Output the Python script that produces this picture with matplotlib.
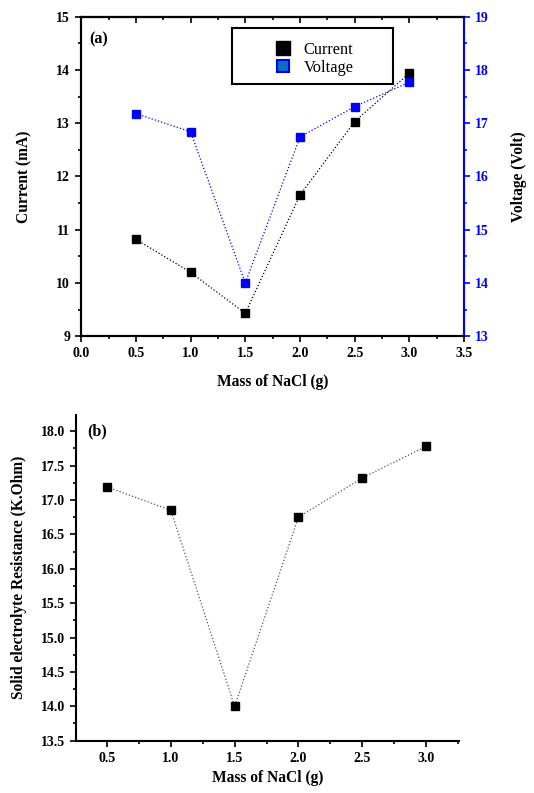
import matplotlib
matplotlib.use("Agg")
import matplotlib.pyplot as plt
from matplotlib.ticker import MultipleLocator
from matplotlib.patches import Rectangle
from matplotlib.lines import Line2D

plt.rcParams['font.family'] = ['Liberation Serif', 'DejaVu Serif']

# data
mass = [0.5, 1.0, 1.5, 2.0, 2.5, 3.0]
current = [10.82, 10.20, 9.43, 11.65, 13.03, 13.94]
voltage = [17.18, 16.84, 14.00, 16.74, 17.31, 17.77]
resistance = [17.19, 16.85, 14.00, 16.75, 17.32, 17.78]

TICK_FS = 10
LABEL_FS = 11.2

fig = plt.figure(figsize=(5.34, 7.93), dpi=100)

# ---- panel (a) ----
ax1 = fig.add_axes([0.152, 0.576, 0.717, 0.403])
ax1.plot(mass, current, ls=':', lw=0.9, color='black', marker='s',
         ms=5.5, mfc='black', mec='black')
ax1.set_xlim(0, 3.5)
ax1.set_ylim(9, 15)
ax1.xaxis.set_major_locator(MultipleLocator(0.5))
ax1.xaxis.set_minor_locator(MultipleLocator(0.25))
ax1.yaxis.set_major_locator(MultipleLocator(1))
ax1.yaxis.set_minor_locator(MultipleLocator(0.5))
ax1.tick_params(which='both', direction='out', labelsize=TICK_FS, width=1.2)
ax1.tick_params(which='major', length=4.5)
ax1.tick_params(which='minor', length=2.5)
for lab in ax1.get_xticklabels() + ax1.get_yticklabels():
    lab.set_fontweight('bold')
# inward ticks on the top edge
top = ax1.secondary_xaxis('top')
top.xaxis.set_major_locator(MultipleLocator(0.5))
top.xaxis.set_minor_locator(MultipleLocator(0.25))
top.tick_params(which='both', direction='in', labeltop=False, width=1.2)
top.tick_params(which='major', length=4.5)
top.tick_params(which='minor', length=2.5)
top.spines['top'].set_linewidth(1.5)

ax1.set_xlabel('Mass of NaCl (g)', fontsize=LABEL_FS, fontweight='bold', labelpad=10)
ax1.set_ylabel('Current (mA)', fontsize=LABEL_FS, fontweight='bold', labelpad=17)
ax1.text(0.02, 0.93, '(a)', transform=ax1.transAxes, fontsize=11.5,
         fontweight='bold', va='center')

ax2 = ax1.twinx()
ax2.plot(mass, voltage, ls=':', lw=0.9, color='blue', marker='s',
         ms=5.5, mfc='blue', mec='blue')
ax2.set_ylim(13, 19)
ax2.yaxis.set_major_locator(MultipleLocator(1))
ax2.yaxis.set_minor_locator(MultipleLocator(0.5))
ax2.tick_params(axis='y', which='both', direction='out', colors='blue',
                labelsize=TICK_FS, width=1.2)
ax2.tick_params(axis='y', which='major', length=4.5)
ax2.tick_params(axis='y', which='minor', length=2.5)
for lab in ax2.get_yticklabels():
    lab.set_fontweight('bold')
ax2.set_ylabel('Voltage (Volt)', fontsize=LABEL_FS, fontweight='bold',
               labelpad=16, color='black')
for ax in (ax1, ax2):
    for s in ax.spines.values():
        s.set_linewidth(1.5)
ax2.spines['right'].set_color('blue')

# legend box
ax2.add_patch(Rectangle((0.394, 0.79), 0.421, 0.175, transform=ax1.transAxes,
                        fill=True, facecolor='white', edgecolor='black',
                        lw=1.5, zorder=5))
handles = [Line2D([], [], ls='none', marker='s', ms=9.5, mfc='black', mec='black'),
           Line2D([], [], ls='none', marker='s', ms=8.5, mfc='#0a6fc4',
                  mec='blue', mew=1.5)]
leg = ax2.legend(handles, ['Current', 'Voltage'], loc='center left',
                 bbox_to_anchor=(0.506, 0.868), fontsize=11.8, frameon=False,
                 handlelength=1.0, labelspacing=0.1, handletextpad=0.75,
                 borderpad=0, borderaxespad=0, bbox_transform=ax1.transAxes)
leg.set_zorder(6)

# ---- panel (b) ----
ax3 = fig.add_axes([0.142, 0.066, 0.717, 0.411])
ax3.plot(mass, resistance, ls=':', lw=0.9, color='#555555', marker='s',
         ms=6, mfc='black', mec='black')
ax3.set_xlim(0.255, 3.256)
ax3.set_ylim(13.5, 18.24)
ax3.xaxis.set_major_locator(MultipleLocator(0.5))
ax3.xaxis.set_minor_locator(MultipleLocator(0.25))
ax3.yaxis.set_major_locator(MultipleLocator(0.5))
ax3.yaxis.set_minor_locator(MultipleLocator(0.25))
ax3.spines['top'].set_visible(False)
ax3.spines['right'].set_visible(False)
for s in ('left', 'bottom'):
    ax3.spines[s].set_linewidth(1.5)
ax3.tick_params(which='both', direction='out', labelsize=TICK_FS, width=1.2)
ax3.tick_params(which='major', length=4.5)
ax3.tick_params(which='minor', length=2.5)
for lab in ax3.get_xticklabels() + ax3.get_yticklabels():
    lab.set_fontweight('bold')
ax3.set_xlabel('Mass of NaCl (g)', fontsize=LABEL_FS, fontweight='bold', labelpad=4)
ax3.set_ylabel('Solid electrolyte Resistance (K.Ohm)', fontsize=LABEL_FS,
               fontweight='bold', labelpad=10)
ax3.text(0.029, 0.949, '(b)', transform=ax3.transAxes, fontsize=11.5,
         fontweight='bold', va='center')

fig.savefig('out.png', dpi=100)
